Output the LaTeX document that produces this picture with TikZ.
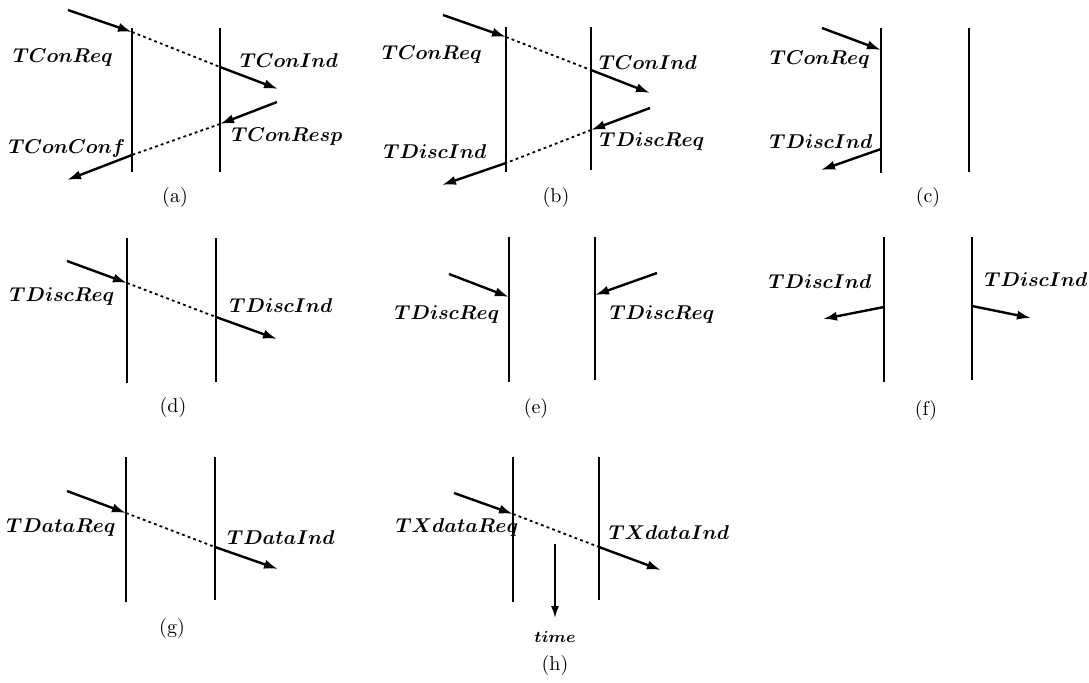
\documentclass[tikz,border=0pt]{standalone}
\usetikzlibrary{arrows.meta}

\tikzset{
  life/.style={line width=1pt},
  msg/.style={line width=1.2pt, -{Latex[length=7pt,width=4.6pt]}},
  wire/.style={line width=0.9pt, dash pattern=on 1.4pt off 1.6pt},
  prim/.style={font=\fontsize{9.7}{12}\selectfont\boldmath, inner sep=0pt},
  subcap/.style={font=\fontsize{10}{12}\selectfont, inner sep=0pt}
}

\begin{document}
\begin{tikzpicture}[x=0.5pt, y=-0.5pt]
        \useasboundingbox (0,0) rectangle (1089,682);

        % (a) connection establishment
        \draw[life] (132,28) -- (132,172);
        \draw[life] (220,28) -- (220,172);
        \coordinate (aS) at (68,10);
        \coordinate (aP) at (132,32);
        \coordinate (aQ) at (220,67);
        \coordinate (aE) at (278,89);
        \coordinate (aS2) at (277,102);
        \coordinate (aQ2) at (220,124);
        \coordinate (aP2) at (132,155);
        \coordinate (aE2) at (67,180);
        \draw[msg] (aS) -- (aP);
        \draw[wire] (aP) -- (aQ);
        \draw[msg] (aQ) -- (aE);
        \draw[msg] (aS2) -- (aQ2);
        \draw[wire] (aQ2) -- (aP2);
        \draw[msg] (aP2) -- (aE2);
        \node[prim] (aReq) at (63,58) {$TConReq$};
        \node[prim] (aInd) at (289,61) {$TConInd$};
        \node[prim] (aResp) at (287,137) {$TConResp$};
        \node[prim] (aConf) at (67,148) {$TConConf$};
        \node[subcap] (aCap) at (175,197) {(a)};

        % (b) refused connection
        \draw[life] (506,27) -- (506,172);
        \draw[life] (591,27) -- (591,170);
        \coordinate (bS) at (443,15);
        \coordinate (bP) at (506,37);
        \coordinate (bQ) at (591,70);
        \coordinate (bE) at (650,93);
        \coordinate (bS2) at (650,108);
        \coordinate (bQ2) at (591,130);
        \coordinate (bP2) at (506,163);
        \coordinate (bE2) at (442,185);
        \draw[msg] (bS) -- (bP);
        \draw[wire] (bP) -- (bQ);
        \draw[msg] (bQ) -- (bE);
        \draw[msg] (bS2) -- (bQ2);
        \draw[wire] (bQ2) -- (bP2);
        \draw[msg] (bP2) -- (bE2);
        \node[prim] (bReq) at (432,55) {$TConReq$};
        \node[prim] (bInd) at (648,63) {$TConInd$};
        \node[prim] (bDReq) at (652,142) {$TDiscReq$};
        \node[prim] (bDInd) at (435,152) {$TDiscInd$};
        \node[subcap] (bCap) at (556,197) {(b)};

        % (c) local refusal
        \draw[life] (881,28) -- (881,173);
        \draw[life] (969,28) -- (969,172);
        \coordinate (cS) at (822,28);
        \coordinate (cP) at (881,50);
        \coordinate (cP2) at (881,149);
        \coordinate (cE2) at (821,170);
        \draw[msg] (cS) -- (cP);
        \draw[msg] (cP2) -- (cE2);
        \node[prim] (cReq) at (820,60) {$TConReq$};
        \node[prim] (cInd) at (821,142) {$TDiscInd$};
        \node[subcap] (cCap) at (928,197) {(c)};

        % (d) release
        \draw[life] (127,238) -- (127,383);
        \draw[life] (216,238) -- (216,382);
        \coordinate (dS) at (67,261);
        \coordinate (dP) at (127,283);
        \coordinate (dQ) at (216,317);
        \coordinate (dE) at (277,339);
        \draw[msg] (dS) -- (dP);
        \draw[wire] (dP) -- (dQ);
        \draw[msg] (dQ) -- (dE);
        \node[prim] (dReq) at (62,297) {$TDiscReq$};
        \node[prim] (dInd) at (281,306) {$TDiscInd$};
        \node[subcap] (dCap) at (173,407) {(d)};

        % (e) release from both sides
        \draw[life] (509,237) -- (509,382);
        \draw[life] (595,237) -- (595,380);
        \coordinate (eS) at (449,274);
        \coordinate (eP) at (509,297);
        \coordinate (eS2) at (657,273);
        \coordinate (eQ) at (595,295);
        \draw[msg] (eS) -- (eP);
        \draw[msg] (eS2) -- (eQ);
        \node[prim] (eReqL) at (447,315) {$TDiscReq$};
        \node[prim] (eReqR) at (662,315) {$TDiscReq$};
        \node[subcap] (eCap) at (536,408) {(e)};

        % (f) provider release
        \draw[life] (884,237) -- (884,382);
        \draw[life] (972,237) -- (972,380);
        \coordinate (fP) at (884,307);
        \coordinate (fE) at (823,319);
        \coordinate (fQ) at (972,306);
        \coordinate (fE2) at (1031,318);
        \draw[msg] (fP) -- (fE);
        \draw[msg] (fQ) -- (fE2);
        \node[prim] (fIndL) at (820,282) {$TDiscInd$};
        \node[prim] (fIndR) at (1036,280) {$TDiscInd$};
        \node[subcap] (fCap) at (926,410) {(f)};

        % (g) normal data
        \draw[life] (126,457) -- (126,602);
        \draw[life] (215,457) -- (215,600);
        \coordinate (gS) at (67,491);
        \coordinate (gP) at (126,513);
        \coordinate (gQ) at (215,547);
        \coordinate (gE) at (278,569);
        \draw[msg] (gS) -- (gP);
        \draw[wire] (gP) -- (gQ);
        \draw[msg] (gQ) -- (gE);
        \node[prim] (gReq) at (61,528) {$TDataReq$};
        \node[prim] (gInd) at (281,538) {$TDataInd$};
        \node[subcap] (gCap) at (172,628) {(g)};

        % (h) expedited data
        \draw[life] (513,457) -- (513,602);
        \draw[life] (599,457) -- (599,600);
        \coordinate (hS) at (454,493);
        \coordinate (hP) at (513,514);
        \coordinate (hQ) at (599,547);
        \coordinate (hE) at (661,570);
        \draw[msg] (hS) -- (hP);
        \draw[wire] (hP) -- (hQ);
        \draw[msg] (hQ) -- (hE);
        \node[prim] (hReq) at (457,527) {$TXdataReq$};
        \node[prim] (hInd) at (669,533) {$TXdataInd$};
        \coordinate (tS) at (555,544);
        \coordinate (tE) at (555,618);
        \node[prim, font=\fontsize{8}{10}\selectfont\boldmath] (time) at (555,637) {$time$};
        \draw[line width=0.9pt, -{Latex[length=6pt,width=4pt]}] (tS) -- (tE);
        \node[subcap] (hCap) at (555,665) {(h)};
\end{tikzpicture}
\end{document}
